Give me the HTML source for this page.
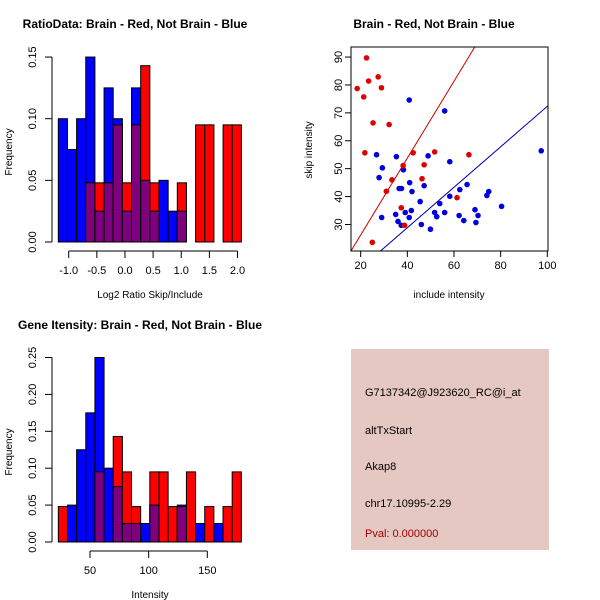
<!DOCTYPE html>
<html><head><meta charset="utf-8"><style>
body{margin:0;background:#fff}
svg{display:block;font-family:"Liberation Sans",sans-serif}
</style></head><body>
<svg id="c" width="600" height="600" viewBox="0 0 600 600">
<rect width="600" height="600" fill="#fff"/>
<rect x="351" y="349" width="198" height="201" fill="#e5c8c2"/>
<text x="365" y="396" font-size="11">G7137342@J923620_RC@i_at</text>
<text x="365" y="434" font-size="11">altTxStart</text>
<text x="365" y="470" font-size="11">Akap8</text>
<text x="365" y="507" font-size="11">chr17.10995-2.29</text>
<text x="365" y="537" font-size="11" fill="#a00000">Pval: 0.000000</text>
</svg>
<script>
// ratio histogram
const ratioBlue=[0.10,0.075,0.10,0.15,0.025,0.125,0.10,0.025,0.125,0.05,0.025,0.05,0.025,0.025,0,0,0,0,0,0];
const ratioRed=[0,0,0,0.048,0.048,0.048,0.095,0.048,0.095,0.143,0.048,0,0,0.048,0,0.095,0.095,0,0.095,0.095];
const ratioTicksY=[0,0.05,0.10,0.15];
const ratioTicksX=[-1.0,-0.5,0.0,0.5,1.0,1.5,2.0];
// intensity histogram
const intBlue=[0,0.05,0.125,0.175,0.25,0.10,0.075,0.025,0.025,0.025,0.05,0,0,0.05,0,0.025,0,0.025,0,0];
const intRed=[0.048,0,0,0,0.095,0,0.143,0.095,0.048,0,0.095,0.095,0.048,0.048,0.095,0,0.048,0,0.048,0.095];
const intTicksY=[0,0.05,0.10,0.15,0.20,0.25];
const intTicksX=[50,100,150];
// scatter
const redX=[18.5,21.3,22.5,23.4,27.5,28.9,25.3,32.2,21.8,42.5,51.7,38.2,47.2,46.3,33.4,31.0,37.4,38.8,25,61.3,66.4];
const redY=[78.7,75.7,89.7,81.4,82.9,79,66.4,65.8,55.7,55.7,56,51.1,51.4,46.4,46,41.9,36,29.7,23.6,39.6,55];
const blueX=[40.8,56,26.8,35.3,48.9,58.2,29.3,38.3,27.9,41,47.2,36.5,37.5,42,65.6,62.5,74.9,74.1,58.2,45.5,53.9,80.4,69,41.7,39.1,51.7,56,35,40.8,29,52.6,62.2,70.3,36,64.2,69.4,46,37.4,49.9,97.4];
const blueY=[74.6,70.7,55,54.3,54.6,52.5,50.3,49.6,46.8,45,43.9,42.9,42.9,41.8,44.3,42.5,41.8,40.4,40.1,38.2,37.5,36.5,35.3,35,34.3,34.3,34.3,33.6,32.5,32.5,32.8,33.2,33.2,31.1,31.4,30.7,30,29.7,28.3,56.4];
const scatTicksX=[20,40,60,80,100];
const scatTicksY=[30,40,50,60,70,80,90];
const redLine=[1.377,-1.3];
const blueLine=[0.725,-0.16];

const svg=document.getElementById('c');
const NS='http://www.w3.org/2000/svg';
function mk(tag,attrs,name,txt){const e=document.createElementNS(NS,tag);for(const k in attrs)e.setAttribute(k,attrs[k]);


if(txt!==undefined)e.textContent=txt;svg.appendChild(e);return e;}

function hist(o){
  const sx=v=>o.x0+(v-o.xv0)*o.xs, sy=v=>o.y0-v*o.ys;
  for(let i=0;i<o.blue.length;i++){
    const a=sx(o.start+i*o.w), b=sx(o.start+(i+1)*o.w);
    const bl=o.blue[i], rd=o.red[i];
    if(bl>0)mk('rect',{x:a,y:sy(bl),width:b-a,height:o.y0-sy(bl),fill:'#0000ff',stroke:'#000','stroke-width':1},o.p+'-blue-bar-'+i);
    if(rd>0)mk('rect',{x:a,y:sy(rd),width:b-a,height:o.y0-sy(rd),fill:'#ff0000',stroke:'#000','stroke-width':1},o.p+'-red-bar-'+i);
    const m=Math.min(bl,rd);
    if(m>0)mk('rect',{x:a,y:sy(m),width:b-a,height:o.y0-sy(m),fill:'#7f007f',stroke:'#000','stroke-width':1},o.p+'-overlap-bar-'+i);
  }
  const yt=o.ty;
  mk('line',{x1:52,x2:52,y1:sy(yt[0]),y2:sy(yt[yt.length-1]),stroke:'#000'},o.p+'-y-axis');
  yt.forEach(t=>{mk('line',{x1:45,x2:52,y1:sy(t),y2:sy(t),stroke:'#000'},o.p+'-y-tick');
    mk('text',{x:0,y:0,'font-size':11,'text-anchor':'middle',transform:`translate(36,${sy(t)}) rotate(-90)`},o.p+'-y-tick-label',t.toFixed(2));});
  const xt=o.tx, ay=o.y0+9;
  mk('line',{x1:sx(xt[0]),x2:sx(xt[xt.length-1]),y1:ay,y2:ay,stroke:'#000'},o.p+'-x-axis');
  xt.forEach(t=>{mk('line',{x1:sx(t),x2:sx(t),y1:ay,y2:ay+7,stroke:'#000'},o.p+'-x-tick');
    mk('text',{x:sx(t),y:ay+23,'font-size':11,'text-anchor':'middle'},o.p+'-x-tick-label',o.fmt(t));});
  mk('text',{x:0,y:0,'font-size':10,'text-anchor':'middle',transform:`translate(12,${o.y0-90}) rotate(-90)`},o.p+'-y-title','Frequency');
  mk('text',{x:150,y:o.y0+56,'font-size':10,'text-anchor':'middle'},o.p+'-x-title',o.xlab);
  mk('text',{x:o.tx0,y:o.y0-o.tyo,'font-size':12,'font-weight':'bold','text-anchor':'middle'},o.p+'-title',o.title);
}
hist({p:'ratio',blue:ratioBlue,red:ratioRed,start:-1.185,w:0.1627,x0:68.7,xv0:-1,xs:56.27,y0:242,ys:1233,ty:ratioTicksY,tx:ratioTicksX,
 fmt:t=>t.toFixed(1),xlab:'Log2 Ratio Skip/Include',title:'RatioData: Brain - Red, Not Brain - Blue',tx0:135,tyo:214});
hist({p:'intensity',blue:intBlue,red:intRed,start:23,w:7.8,x0:90,xv0:50,xs:1.173,y0:542,ys:738,ty:intTicksY,tx:intTicksX,
 fmt:t=>String(t),xlab:'Intensity',title:'Gene Itensity: Brain - Red, Not Brain - Blue',tx0:140,tyo:213});

// scatter
const L=351,R=548,T=47,B=251,xmin=15.85,xmax=100.3,ymin=20.5,ymax=93.6;
const px=v=>L+(v-xmin)/(xmax-xmin)*(R-L), py=v=>B-(v-ymin)/(ymax-ymin)*(B-T);
const cp=document.createElementNS(NS,'clipPath');cp.setAttribute('id','sc');
const cr=document.createElementNS(NS,'rect');cr.setAttribute('x',L);cr.setAttribute('y',T);cr.setAttribute('width',R-L);cr.setAttribute('height',B-T);
cp.appendChild(cr);svg.appendChild(cp);
[[redLine,'#cc0000','red-fit-line'],[blueLine,'#0000aa','blue-fit-line']].forEach(([l,c,n])=>{
  mk('line',{x1:px(xmin),y1:py(l[0]*xmin+l[1]),x2:px(xmax),y2:py(l[0]*xmax+l[1]),stroke:c,'stroke-width':1,'clip-path':'url(#sc)'},n);});
blueX.forEach((v,i)=>mk('circle',{cx:px(v),cy:py(blueY[i]),r:2.8,fill:'#0000dd'},'blue-point'));
redX.forEach((v,i)=>mk('circle',{cx:px(v),cy:py(redY[i]),r:2.8,fill:'#dd0000'},'red-point'));
mk('rect',{x:L,y:T,width:R-L,height:B-T,fill:'none',stroke:'#000'},'scatter-plot-box');
scatTicksX.forEach(t=>{mk('line',{x1:px(t),x2:px(t),y1:B,y2:B+6,stroke:'#000'},'scatter-x-tick');
  mk('text',{x:px(t),y:B+18,'font-size':11,'text-anchor':'middle'},'scatter-x-tick-label',String(t));});
scatTicksY.forEach(t=>{mk('line',{x1:L-6,x2:L,y1:py(t),y2:py(t),stroke:'#000'},'scatter-y-tick');
  mk('text',{x:0,y:0,'font-size':11,'text-anchor':'middle',transform:`translate(${L-9},${py(t)}) rotate(-90)`},'scatter-y-tick-label',String(t));});
mk('text',{x:449,y:298,'font-size':10,'text-anchor':'middle'},'scatter-x-title','include intensity');
mk('text',{x:0,y:0,'font-size':10,'text-anchor':'middle',transform:'translate(312,150) rotate(-90)'},'scatter-y-title','skip intensity');
mk('text',{x:434,y:28,'font-size':12,'font-weight':'bold','text-anchor':'middle'},'scatter-title','Brain - Red, Not Brain - Blue');
</script>
</body></html>
